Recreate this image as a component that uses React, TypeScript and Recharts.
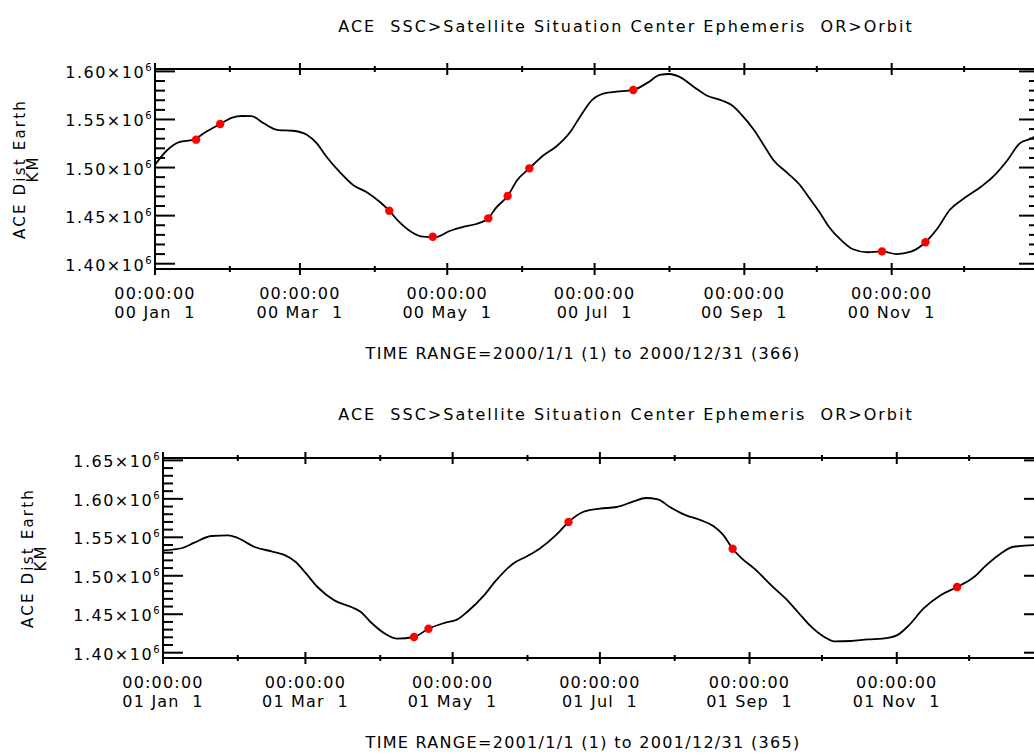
import { ComposedChart, Line, XAxis, YAxis } from "recharts";

const FONT = "'DejaVu Sans', sans-serif";
const TIME_OF_DAY = "00:00:00";

// ---- 2000 ----
const days2000 = [
  0, 5, 10, 16, 21, 27, 32, 36, 40, 45, 51, 57, 63, 67, 71, 77, 82, 88, 93, 97,
  101, 106, 111, 116, 122, 128, 133, 138, 141, 146, 150, 155, 161, 166, 172, 176,
  181, 186, 191, 198, 204, 209, 213, 217, 223, 228, 235, 239, 243, 248, 252, 256,
  262, 267, 271, 275, 279, 284, 289, 295, 301, 307, 313, 319, 324, 329, 335, 342,
  347, 353, 358, 363, 366,
];
const km2000 = [
  1503000, 1518000, 1526500, 1529000, 1537000, 1545300, 1552000, 1553600, 1553500,
  1546000, 1539000, 1538300, 1533900, 1525200, 1511300, 1494000, 1481900, 1473900,
  1464500, 1455100, 1443700, 1433300, 1428100, 1427500, 1434000, 1438500, 1441300,
  1447200, 1457600, 1470400, 1487000, 1499200, 1513000, 1521700, 1537300, 1552900,
  1570300, 1577200, 1578900, 1580700, 1588300, 1596300, 1597300, 1594500, 1584100,
  1575500, 1569500, 1564500, 1554500, 1539000, 1523500, 1507900, 1494000, 1481900,
  1468000, 1454100, 1438500, 1424700, 1415000, 1411900, 1412800, 1410000, 1412500,
  1422300, 1436800, 1455900, 1468000, 1480100, 1490500, 1507900, 1525200, 1530400,
  1535000,
];
const markerDays2000 = [17, 27, 97, 115, 138, 146, 155, 198, 301, 319];
const markerKm2000 = [
  1529000, 1545300, 1455100, 1428000, 1447200, 1470400, 1499200, 1580700, 1412800,
  1422300,
];
const tickDays2000 = [0, 31, 60, 91, 121, 152, 182, 213, 244, 274, 305, 335];
const tickLabels2000 = [
  "00 Jan  1", "", "00 Mar  1", "", "00 May  1", "", "00 Jul  1", "",
  "00 Sep  1", "", "00 Nov  1", "",
];
const yTicks2000 = [
  1400000, 1410000, 1420000, 1430000, 1440000, 1450000, 1460000, 1470000, 1480000,
  1490000, 1500000, 1510000, 1520000, 1530000, 1540000, 1550000, 1560000, 1570000,
  1580000, 1590000, 1600000,
];
const yMajor2000 = [1400000, 1450000, 1500000, 1550000, 1600000];

// ---- 2001 ----
const days2001 = [
  0, 8, 13, 20, 27, 31, 38, 45, 50, 55, 59, 64, 71, 78, 82, 86, 92, 97, 104, 110,
  117, 122, 126, 133, 138, 145, 151, 156, 163, 168, 174, 181, 188, 195, 200, 205,
  210, 216, 223, 228, 232, 236, 240, 245, 252, 258, 263, 268, 274, 278, 285, 292,
  298, 304, 309, 315, 322, 329, 336, 341, 347, 352, 359, 365,
];
const km2001 = [
  1533000, 1536100, 1543000, 1551700, 1552500, 1549100, 1537400, 1531700, 1527400,
  1517900, 1504000, 1485400, 1468000, 1459400, 1452900, 1439900, 1424700, 1418200,
  1420400, 1431200, 1439000, 1443300, 1452900, 1474500, 1494000, 1515700, 1525700,
  1535200, 1553400, 1569900, 1582900, 1587200, 1589400, 1596700, 1601100, 1599300,
  1589400, 1579400, 1572000, 1564700, 1553400, 1535200, 1522000, 1509200, 1487500,
  1470200, 1452900, 1435500, 1420400, 1414700, 1415200, 1417300, 1418200, 1422500,
  1435500, 1457200, 1474500, 1485400, 1498400, 1513500, 1528700, 1537400, 1539500,
  1540000,
];
const markerDays2001 = [104, 110, 168, 236, 329];
const markerKm2001 = [1420400, 1431200, 1569900, 1535200, 1485400];
const tickDays2001 = [0, 31, 59, 90, 120, 151, 181, 212, 243, 273, 304, 334];
const tickLabels2001 = [
  "01 Jan  1", "", "01 Mar  1", "", "01 May  1", "", "01 Jul  1", "",
  "01 Sep  1", "", "01 Nov  1", "",
];
const yTicks2001 = [
  1400000, 1410000, 1420000, 1430000, 1440000, 1450000, 1460000, 1470000, 1480000,
  1490000, 1500000, 1510000, 1520000, 1530000, 1540000, 1550000, 1560000, 1570000,
  1580000, 1590000, 1600000, 1610000, 1620000, 1630000, 1640000, 1650000,
];
const yMajor2001 = [1400000, 1450000, 1500000, 1550000, 1600000, 1650000];

const TITLE = "ACE  SSC>Satellite Situation Center Ephemeris  OR>Orbit";

const toPoints = (days: number[], km: number[]) =>
  days.map((day, i) => ({ day, km: km[i] }));

const BottomTick = (props: any) => {
  const { x, y, payload, tickDays, labels } = props;
  const label = labels[tickDays.indexOf(payload.value)];
  const len = label ? 6 : 3;
  return (
    <g>
      <line x1={x} x2={x} y1={y - len} y2={y + len} stroke="#000" strokeWidth={2} />
      {label && (
        <text
          textAnchor="middle"
          fontFamily={FONT}
          fontSize={16}
          fill="#000"
          style={{ whiteSpace: "pre", letterSpacing: "1.2px" }}
        >
          <tspan x={x} y={y + 30}>{TIME_OF_DAY}</tspan>
          <tspan x={x} y={y + 49}>{label}</tspan>
        </text>
      )}
    </g>
  );
};

const TopTick = (props: any) => {
  const { x, y, payload, tickDays, labels } = props;
  const len = labels[tickDays.indexOf(payload.value)] ? 6 : 3;
  return <line x1={x} x2={x} y1={y - len} y2={y + len} stroke="#000" strokeWidth={2} />;
};

// left axis: inward tick mark plus label on the majors
const LeftTick = (props: any) => {
  const { y, payload, majors, edge } = props;
  const major = majors.includes(payload.value);
  return (
    <g>
      <path d={`M${edge},${y}H${edge + (major ? 20 : 10)}`} stroke="#000" strokeWidth={2} fill="none" />
      {major && (
        <text
          x={edge - 2}
          y={y + 7}
          textAnchor="end"
          fontFamily={FONT}
          fontSize={16}
          fill="#000"
          style={{ letterSpacing: "1.5px" }}
        >
          <tspan>{(payload.value / 1e6).toFixed(2)}×10</tspan>
          <tspan dy={-7} fontSize={10}>6</tspan>
        </text>
      )}
    </g>
  );
};

const RightTick = (props: any) => {
  const { y, payload, majors, edge } = props;
  const len = majors.includes(payload.value) ? 20 : 10;
  return <path d={`M${edge},${y}H${edge - len}`} stroke="#000" strokeWidth={2} fill="none" />;
};

interface PanelProps {
  top: number;
  height: number;
  plotLeft: number;
  plotTop: number;
  plotWidth: number;
  dayCount: number;
  domain: [number, number];
  curve: { day: number; km: number }[];
  markers: { day: number; km: number }[];
  tickDays: number[];
  tickLabels: string[];
  yTicks: number[];
  yMajor: number[];
  titleX: number;
  titleY: number;
  rangeText: string;
  rangeX: number;
  rangeY: number;
  yTitleX: number;
}

const W = 1100;
const PLOT_H = 200;

const Panel = (p: PanelProps) => {
  const bottomAxisH = 60;
  const margin = {
    top: p.plotTop - 10,
    left: 0,
    right: W - p.plotLeft - p.plotWidth - 10,
    bottom: p.height - p.plotTop - PLOT_H - bottomAxisH,
  };
  const axisLine = { stroke: "#000", strokeWidth: 2 };
  const cy = p.plotTop + PLOT_H / 2;
  const rightEdge = p.plotLeft + p.plotWidth;
  return (
    <div style={{ position: "absolute", left: 0, top: p.top, width: W, height: p.height }}>
      <ComposedChart width={W} height={p.height} margin={margin}>
        <XAxis
          xAxisId="bottom"
          type="number"
          dataKey="day"
          domain={[0, p.dayCount]}
          allowDataOverflow
          ticks={p.tickDays}
          interval={0}
          height={bottomAxisH}
          tickSize={0}
          tickMargin={0}
          axisLine={axisLine}
          tick={(t: any) => <BottomTick {...t} tickDays={p.tickDays} labels={p.tickLabels} />}
        />
        <XAxis
          xAxisId="top"
          orientation="top"
          type="number"
          dataKey="day"
          domain={[0, p.dayCount]}
          allowDataOverflow
          ticks={p.tickDays}
          interval={0}
          height={10}
          tickSize={0}
          tickMargin={0}
          axisLine={axisLine}
          tick={(t: any) => <TopTick {...t} tickDays={p.tickDays} labels={p.tickLabels} />}
        />
        <YAxis
          yAxisId="left"
          type="number"
          domain={p.domain}
          allowDataOverflow
          ticks={p.yTicks}
          interval={0}
          width={p.plotLeft}
          tickSize={0}
          tickMargin={0}
          axisLine={axisLine}
          tick={(t: any) => <LeftTick {...t} majors={p.yMajor} edge={p.plotLeft} />}
        />
        <YAxis
          yAxisId="right"
          orientation="right"
          type="number"
          domain={p.domain}
          allowDataOverflow
          ticks={p.yTicks}
          interval={0}
          width={10}
          tickSize={0}
          tickMargin={0}
          axisLine={axisLine}
          tick={(t: any) => <RightTick {...t} majors={p.yMajor} edge={rightEdge} />}
        />
        <Line
          xAxisId="bottom"
          yAxisId="left"
          data={p.curve}
          dataKey="km"
          type="monotone"
          stroke="#000"
          strokeWidth={1.8}
          dot={false}
          activeDot={false}
          isAnimationActive={false}
        />
        <Line
          xAxisId="bottom"
          yAxisId="left"
          data={p.markers}
          dataKey="km"
          stroke="none"
          strokeWidth={0}
          dot={{ r: 4.2, fill: "#ff0000", stroke: "none" }}
          activeDot={false}
          isAnimationActive={false}
        />
      </ComposedChart>
      <svg
        width={W}
        height={p.height}
        style={{ position: "absolute", left: 0, top: 0, pointerEvents: "none" }}
      >
        <text
          x={p.titleX}
          y={p.titleY}
          textAnchor="middle"
          fontFamily={FONT}
          fontSize={16}
          fill="#000"
          style={{ whiteSpace: "pre", letterSpacing: "2px" }}
        >
          {TITLE}
        </text>
        <text
          x={p.rangeX}
          y={p.rangeY}
          textAnchor="middle"
          fontFamily={FONT}
          fontSize={16}
          fill="#000"
          style={{ whiteSpace: "pre", letterSpacing: "1.3px" }}
        >
          {p.rangeText}
        </text>
        <text
          transform={`rotate(-90 ${p.yTitleX} ${cy})`}
          textAnchor="middle"
          fontFamily={FONT}
          fontSize={15}
          fill="#000"
          style={{ letterSpacing: "2.2px" }}
        >
          <tspan x={p.yTitleX} y={cy + 5}>ACE Dist Earth</tspan>
          <tspan x={p.yTitleX} y={cy + 18}>KM</tspan>
        </text>
      </svg>
    </div>
  );
};

export default function App() {
  return (
    <div
      style={{
        position: "absolute",
        left: 0,
        top: 0,
        width: 1034,
        height: 754,
        overflow: "hidden",
        background: "#fff",
      }}
    >
      <Panel
        top={0}
        height={380}
        plotLeft={155}
        plotTop={69}
        plotWidth={884}
        dayCount={366}
        domain={[1394500, 1602500]}
        curve={toPoints(days2000, km2000)}
        markers={toPoints(markerDays2000, markerKm2000)}
        tickDays={tickDays2000}
        tickLabels={tickLabels2000}
        yTicks={yTicks2000}
        yMajor={yMajor2000}
        titleX={626}
        titleY={32}
        rangeText="TIME RANGE=2000/1/1 (1) to 2000/12/31 (366)"
        rangeX={583}
        rangeY={359}
        yTitleX={20}
      />
      <Panel
        top={380}
        height={374}
        plotLeft={163}
        plotTop={78}
        plotWidth={881}
        dayCount={365}
        domain={[1393100, 1653100]}
        curve={toPoints(days2001, km2001)}
        markers={toPoints(markerDays2001, markerKm2001)}
        tickDays={tickDays2001}
        tickLabels={tickLabels2001}
        yTicks={yTicks2001}
        yMajor={yMajor2001}
        titleX={626}
        titleY={40}
        rangeText="TIME RANGE=2001/1/1 (1) to 2001/12/31 (365)"
        rangeX={583}
        rangeY={368}
        yTitleX={28}
      />
    </div>
  );
}
